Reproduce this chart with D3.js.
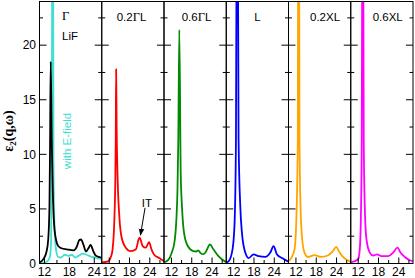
<!DOCTYPE html>
<html><head><meta charset="utf-8">
<script src="https://cdn.jsdelivr.net/npm/d3@7"></script>
<style>body{margin:0;background:#fff}svg{display:block}</style>
</head><body><svg id="c" width="415" height="278"></svg>
<script>
// ---------- data ----------
const panelLabels = ["Γ", "0.2ΓL", "0.6ΓL", "L", "0.2XL", "0.6XL"];
const xTickLabels = [12, 18, 24];
const yTickLabels = [0, 5, 10, 15, 20];

// Gamma, LiF (no field) - black
const gammaE = [10.8, 11.7, 12.5, 12.9, 13.2, 13.35, 13.5, 13.75, 14.0, 14.3, 14.8, 15.3, 16.1, 17.4, 19.0, 19.8, 20.4, 20.8, 21.4, 22.0, 22.6, 23.1, 23.8, 24.4, 25.4, 25.8];
const gammaV = [0.1, 0.38, 1.1, 2.2, 5.2, 11, 18.5, 11.3, 6.7, 3.7, 2.15, 1.6, 1.4, 1.3, 1.2, 1.55, 2.15, 2.2, 1.7, 1.1, 1.4, 1.7, 1.1, 0.7, 0.57, 0.5];
// Gamma, with E-field - turquoise
const fieldE = [10.8, 12.5, 13.3, 13.6, 13.72, 13.85, 13.98, 14.1, 14.18, 14.4, 14.8, 15.3, 15.9, 16.9, 17.7, 18.6, 19.4, 20.2, 21.2, 22.2, 23.4, 24.6, 25.8];
const fieldV = [0.0, 0.15, 0.6, 2.2, 8, 26, 40, 24, 8.3, 3.7, 1.2, 0.6, 0.55, 0.8, 0.7, 0.8, 0.55, 0.7, 0.9, 0.8, 0.6, 0.5, 0.4];
// 0.2 Gamma-L - red
const q02GLE = [9.8, 11.7, 12.6, 13.0, 13.5, 13.8, 13.94, 14.05, 14.2, 14.45, 15.0, 15.6, 16.9, 18.4, 19.9, 20.7, 21.0, 21.9, 22.8, 23.8, 24.5, 25.3, 26.8, 28.2];
const q02GLV = [0.1, 0.2, 0.7, 1.3, 3.8, 7.5, 11.4, 17.8, 12.5, 8.3, 4.3, 2.5, 1.45, 1.13, 1.3, 2.2, 2.36, 1.6, 1.45, 1.95, 1.3, 0.8, 0.5, 0.2];
// 0.6 Gamma-L - green
const q06GLE = [9.8, 11.0, 12.1, 13.0, 13.4, 13.8, 14.03, 14.33, 14.74, 15.1, 15.6, 16.6, 18.5, 19.3, 19.9, 20.6, 21.4, 22.4, 22.9, 23.4, 24.4, 25.9, 27.8, 28.2];
const q06GLV = [0.1, 0.3, 1.0, 2.2, 3.7, 7, 11.4, 21.4, 8.3, 5.3, 3.1, 1.74, 1.13, 1.1, 1.2, 0.95, 0.85, 1.2, 1.55, 1.74, 1.3, 0.67, 0.2, 0.15];
// L - blue
const qLE = [9.8, 10.48, 11.66, 12.26, 12.67, 12.85, 13.05, 13.25, 13.44, 13.94, 14.44, 15.42, 16.4, 17.88, 19.36, 21.34, 22.82, 23.79, 24.8, 26.28, 27.94, 28.2];
const qLV = [0.1, 0.2, 1.3, 3.7, 11.4, 30, 45, 30, 11.4, 5.3, 2.8, 1.0, 0.5, 0.83, 0.67, 0.6, 1.0, 1.6, 0.83, 0.5, 0.2, 0.15];
// 0.2 X-L - orange
const q02XLE = [9.8, 10.6, 11.58, 12.08, 12.55, 12.65, 12.8, 12.95, 13.05, 13.35, 13.85, 14.53, 15.51, 17.49, 19.47, 21.43, 22.91, 23.91, 24.68, 25.69, 26.87, 27.85, 28.2];
const q02XLV = [0.2, 0.5, 1.3, 3.7, 11.4, 30, 45, 30, 11.4, 5.3, 2.2, 1.0, 0.6, 0.76, 0.6, 0.73, 1.13, 1.53, 1.13, 0.67, 0.37, 0.2, 0.15];
// 0.6 X-L - magenta
const q06XLE = [9.8, 11.96, 12.46, 12.76, 13.05, 13.2, 13.35, 13.5, 13.64, 13.94, 14.45, 15.42, 16.4, 17.58, 18.88, 20.84, 22.31, 23.62, 24.5, 25.78, 27.26, 28.2];
const q06XLV = [0.1, 0.37, 1.3, 3.7, 11.4, 30, 45, 30, 11.4, 5.3, 2.2, 1.0, 0.73, 0.83, 0.67, 0.67, 1.0, 1.45, 1.0, 0.6, 0.3, 0.2];

// ---------- layout ----------
const svg = d3.select("#c");
const left0 = 39.5, panelW = 62.25, topY = 1.5, bottomY = 263.5;
const y = d3.scaleLinear().domain([0, 24]).range([bottomY, topY]);
const xDomains = [[10.8, 25.8], [9.8, 28.2], [9.8, 28.2], [9.8, 28.2], [9.8, 28.2], [9.8, 28.2]];
const series = [
  [{e: fieldE, v: fieldV, c: "#40e0d0"}, {e: gammaE, v: gammaV, c: "#000000"}],
  [{e: q02GLE, v: q02GLV, c: "#ff0000"}],
  [{e: q06GLE, v: q06GLV, c: "#008b00"}],
  [{e: qLE, v: qLV, c: "#0000ff"}],
  [{e: q02XLE, v: q02XLV, c: "#ffa500"}],
  [{e: q06XLE, v: q06XLV, c: "#ff00ff"}]
];
const labelPos = [[62, 20], [116.7, 20.5], [181.7, 20.5], [254.3, 20.5], [310, 20.5], [372.7, 20.5]];
const sans = "'Liberation Sans', Arial, Helvetica, sans-serif";
const serif = "'Liberation Serif', 'Times New Roman', serif";

const defs = svg.append("defs");
defs.append("marker").attr("id", "arr").attr("viewBox", "0 0 10 10")
  .attr("refX", 9).attr("refY", 5).attr("markerWidth", 7).attr("markerHeight", 7)
  .attr("markerUnits", "userSpaceOnUse").attr("orient", "auto")
  .append("path").attr("d", "M0,1 L10,5 L0,9 Z").attr("fill", "#000");

const xScales = [];
series.forEach((ser, i) => {
  const x0 = left0 + i * panelW, x1 = x0 + panelW;
  const x = d3.scaleLinear().domain(xDomains[i]).range([x0, x1]);
  xScales.push(x);
  defs.append("clipPath").attr("id", "clip" + i).append("rect")
    .attr("x", x0).attr("y", topY).attr("width", panelW).attr("height", bottomY - topY);
  const g = svg.append("g");
  const line = d3.line().x(d => x(d[0])).y(d => y(d[1])).curve(d3.curveMonotoneX);
  const cg = g.append("g").attr("clip-path", `url(#clip${i})`);
  ser.forEach(s => {
    cg.append("path").attr("d", line(s.e.map((e, k) => [e, s.v[k]])))
      .attr("fill", "none").attr("stroke", s.c).attr("stroke-width", 1.8)
      .attr("stroke-linejoin", "round");
  });
  // y ticks inside left and right
  const yMajor = yTickLabels, yMinor = [2.5, 7.5, 12.5, 17.5, 22.5];
  yMajor.concat(yMinor).forEach(t => {
    const len = yMajor.includes(t) ? 7 : 3.5;
    g.append("line").attr("x1", x0).attr("x2", x0 + len).attr("y1", y(t)).attr("y2", y(t)).attr("stroke", "#000").attr("stroke-width", 1);
    g.append("line").attr("x1", x1).attr("x2", x1 - len).attr("y1", y(t)).attr("y2", y(t)).attr("stroke", "#000").attr("stroke-width", 1);
  });
  // x ticks
  const xMajor = xTickLabels;
  const xMinor = [9, 15, 21, 27].filter(t => t > xDomains[i][0] && t < xDomains[i][1]);
  xMajor.concat(xMinor).forEach(t => {
    const len = xMajor.includes(t) ? 6 : 3.5;
    g.append("line").attr("x1", x(t)).attr("x2", x(t)).attr("y1", bottomY).attr("y2", bottomY - len).attr("stroke", "#000").attr("stroke-width", 1);
  });
  xMajor.forEach(t => {
    g.append("text").attr("x", x(t)).attr("y", 276).attr("text-anchor", "middle")
      .attr("font-family", sans).attr("font-size", 12).attr("fill", "#000").text(t);
  });
  g.append("rect").attr("x", x0).attr("y", topY).attr("width", panelW).attr("height", bottomY - topY)
    .attr("fill", "none").attr("stroke", "#000").attr("stroke-width", 1);
  // panel label
  const lab = panelLabels[i];
  const t = g.append("text").attr("x", labelPos[i][0]).attr("y", labelPos[i][1])
    .attr("font-family", sans).attr("font-size", 11.5).attr("fill", "#000");
  lab.split(/(Γ)/).filter(s => s.length).forEach(part => {
    const sp = t.append("tspan").text(part);
    if (part === "Γ") sp.attr("font-family", serif).attr("font-size", 12.5);
  });
});

// y tick labels (first panel)
yTickLabels.forEach(t => {
  svg.append("text").attr("x", 36).attr("y", y(t)).attr("dy", "0.36em").attr("text-anchor", "end")
    .attr("font-family", sans).attr("font-size", 12).attr("fill", "#000").text(t);
});

// LiF label
svg.append("text").attr("x", 62).attr("y", 40).attr("font-family", sans).attr("font-size", 11.5).text("LiF");

// with E-field
svg.append("text").attr("transform", "translate(71,141) rotate(-90)").attr("text-anchor", "middle")
  .attr("font-family", sans).attr("font-size", 11.5).attr("fill", "#40e0d0").text("with E-field");

// IT annotation
const xr = xScales[1];
svg.append("text").attr("x", 141.7).attr("y", 206.5).attr("font-family", sans).attr("font-size", 11.5).text("IT");
svg.append("line").attr("x1", xr(22.6)).attr("y1", y(5.1)).attr("x2", xr(21.25)).attr("y2", y(2.6))
  .attr("stroke", "#000").attr("stroke-width", 1).attr("marker-end", "url(#arr)");

// y axis title
const yt = svg.append("text").attr("transform", "translate(13,131) rotate(-90)").attr("text-anchor", "middle")
  .attr("font-family", serif).attr("font-weight", "bold").attr("font-size", 14).attr("fill", "#000");
yt.append("tspan").text("ε");
yt.append("tspan").attr("font-size", 9).attr("dy", 3).text("2");
yt.append("tspan").attr("dy", -3).text("(q,ω)");
</script></body></html>
